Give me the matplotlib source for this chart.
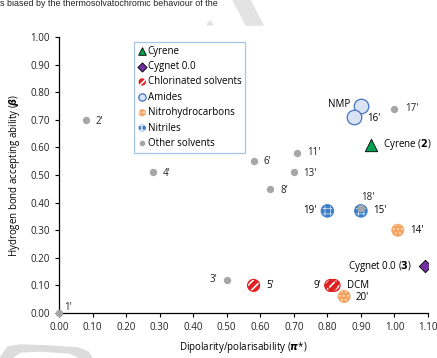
import matplotlib
matplotlib.use("Agg")
import matplotlib.pyplot as plt
from matplotlib.patches import Polygon

plt.rcParams['font.family'] = ['Open Sans', 'DejaVu Sans']
plt.rcParams['hatch.linewidth'] = 1.2

# Data
other_x = [0.00, 0.08, 0.50, 0.28, 0.58, 0.63, 0.71, 0.70, 1.00, 0.90]
other_y = [0.00, 0.70, 0.12, 0.51, 0.55, 0.45, 0.58, 0.51, 0.74, 0.38]
other_lbl = ["1'", "2'", "3'", "4'", "6'", "8'", "11'", "13'", "17'", "18'"]

cyrene_x, cyrene_y = [0.93], [0.61]
cygnet_x, cygnet_y = [1.09], [0.17]
chlor_x = [0.58, 0.81, 0.82]
chlor_y = [0.10, 0.10, 0.10]
amide_x = [0.90, 0.88]
amide_y = [0.75, 0.71]
nitro_x = [1.01, 0.85]
nitro_y = [0.30, 0.06]
nitrile_x = [0.80, 0.90]
nitrile_y = [0.37, 0.37]

xticks = [0.0, 0.1, 0.2, 0.3, 0.4, 0.5, 0.6, 0.7, 0.8, 0.9, 1.0, 1.1]
yticks = [0.0, 0.1, 0.2, 0.3, 0.4, 0.5, 0.6, 0.7, 0.8, 0.9, 1.0]

W, H = 437, 358
fig = plt.figure(figsize=(W/100, H/100), dpi=100)
ax = fig.add_axes([59/W, 1-313/H, (428-59)/W, (313-37)/H])
ax.set_xlim(0, 1.1)
ax.set_ylim(0, 1.0)
ax.set_facecolor('none')

def px(pts):
    return [[x/W, 1-y/H] for x, y in pts]

fs = 7
# Watermark shapes (background decoration)
fig.patches.append(Polygon(px([(233, 0), (250, 0), (263, 25), (246, 25)]),
                           closed=True, transform=fig.transFigure, color='#e3e3e3', zorder=0))
fig.patches.append(Polygon(px([(207, 25), (210, 21), (213, 25)]),
                           closed=True, transform=fig.transFigure, color='#e3e3e3', zorder=0))
fig.patches.append(Polygon(px([(0, 358), (8, 347), (20, 345), (50, 346), (78, 348), (88, 352), (92, 358), (80, 358), (70, 353), (40, 351), (20, 352), (12, 358)]),
                           closed=True, transform=fig.transFigure, color='#dcdcdc', zorder=0))
fig.text(0.0, 1-4/H, "s biased by the thermosolvatochromic behaviour of the",
         fontsize=6.4, family='Liberation Sans', va='center', ha='left', color='#222222')

def hl(coll, lw):
    if hasattr(coll, 'set_hatch_linewidth'):
        coll.set_hatch_linewidth(lw)

h_cyr = ax.scatter(cyrene_x, cyrene_y, marker='^', s=80, c='#00a050', edgecolors='black', linewidths=0.6, zorder=4, label='Cyrene')
h_cyg = ax.scatter(cygnet_x, cygnet_y, marker='D', s=40, c='#7030a0', edgecolors='black', linewidths=0.6, zorder=4, label='Cygnet 0.0')
h_chl = ax.scatter(chlor_x, chlor_y, marker='o', s=75, facecolors='#e02020', edgecolors='white', linewidths=0, hatch='////', zorder=3, label='Chlorinated solvents')
hl(h_chl, 1.2)
ax.scatter(chlor_x, chlor_y, marker='o', s=75, facecolors='none', edgecolors='#e02020', linewidths=0.8, zorder=3)
h_am = ax.scatter(amide_x, amide_y, marker='o', s=110, facecolors='#dae3f3', edgecolors='#4472c4', linewidths=0.9, zorder=3, label='Amides')
with plt.rc_context({'hatch.linewidth': 0.8}):
    h_nit = ax.scatter(nitro_x, nitro_y, marker='o', s=75, facecolors='#f4a460', edgecolors='#fde0c8', linewidths=0, hatch='....', zorder=3, label='Nitrohydrocarbons')
hl(h_nit, 0.8)
ax.scatter(nitro_x, nitro_y, marker='o', s=75, facecolors='none', edgecolors='#f4a460', linewidths=0.6, zorder=3)
with plt.rc_context({'hatch.linewidth': 0.5}):
    h_ntl = ax.scatter(nitrile_x, nitrile_y, marker='o', s=80, facecolors='#3c7fc8', edgecolors='#dde8f6', linewidths=0, hatch='+++', zorder=3, label='Nitriles')
hl(h_ntl, 0.5)
ax.scatter(nitrile_x, nitrile_y, marker='o', s=80, facecolors='none', edgecolors='#3c7fc8', linewidths=0.8, zorder=3)
h_oth = ax.scatter(other_x, other_y, marker='o', s=28, c='#a6a6a6', linewidths=0, zorder=5, label='Other solvents', clip_on=False)

# Point labels
offs = {"1'": (4, 4, 'left'), "2'": (7, -1, 'left'), "3'": (-7, 0, 'right'), "4'": (7, -1, 'left'),
        "6'": (7, 0, 'left'), "8'": (7, -1, 'left'), "11'": (7, 0, 'left'), "13'": (7, -1, 'left'),
        "17'": (8, 0, 'left'), "18'": (0, 8, 'left')}
for x, y, t in zip(other_x, other_y, other_lbl):
    dx, dy, ha = offs[t]
    ax.annotate(t, (x, y), xytext=(dx, dy), textcoords='offset points', ha=ha, va='center', fontsize=fs, color='#222222')

ax.annotate("Cyrene ($\\mathbf{2}$)", (0.93, 0.61), xytext=(9, 0), textcoords='offset points', va='center', fontsize=fs)
ax.annotate("Cygnet 0.0 ($\\mathbf{3}$)", (1.09, 0.17), xytext=(-9, 0), textcoords='offset points', va='center', ha='right', fontsize=fs)
ax.annotate("5'", (0.58, 0.10), xytext=(9, 0), textcoords='offset points', va='center', fontsize=fs)
ax.annotate("9'", (0.81, 0.10), xytext=(-7, 0), textcoords='offset points', va='center', ha='right', fontsize=fs)
ax.annotate("DCM", (0.82, 0.10), xytext=(9, 0), textcoords='offset points', va='center', fontsize=fs)
ax.annotate("20'", (0.85, 0.06), xytext=(8, -1), textcoords='offset points', va='center', fontsize=fs)
ax.annotate("14'", (1.01, 0.30), xytext=(9, 0), textcoords='offset points', va='center', fontsize=fs)
ax.annotate("19'", (0.80, 0.37), xytext=(-8, 0), textcoords='offset points', va='center', ha='right', fontsize=fs)
ax.annotate("15'", (0.90, 0.37), xytext=(9, 0), textcoords='offset points', va='center', fontsize=fs)
ax.annotate("NMP", (0.90, 0.75), xytext=(-8, 1), textcoords='offset points', va='center', ha='right', fontsize=fs)
ax.annotate("16'", (0.88, 0.71), xytext=(9, -1), textcoords='offset points', va='center', fontsize=fs)

for s in ['top', 'right']:
    ax.spines[s].set_visible(False)
for s in ['left', 'bottom']:
    ax.spines[s].set_linewidth(0.9)
ax.set_xticks(xticks)
ax.set_yticks(yticks)
ax.set_xticklabels([f"{v:.2f}" for v in xticks])
ax.set_yticklabels([f"{v:.2f}" for v in yticks])
ax.tick_params(labelsize=fs, length=3, width=0.8, colors='black', labelcolor='#222222')
ax.set_xlabel("Dipolarity/polarisability ($\\boldsymbol{\\pi}$*)", fontsize=fs, labelpad=5)
ax.set_ylabel("Hydrogen bond accepting ability ($\\boldsymbol{\\beta}$)", fontsize=fs, labelpad=6)

leg = ax.legend(handles=[h_cyr, h_cyg, h_chl, h_am, h_nit, h_ntl, h_oth], loc='upper left',
                bbox_to_anchor=(0.19, 1.0), fontsize=fs, frameon=True, fancybox=False,
                handletextpad=0.1, borderpad=0.4, labelspacing=0.45, handlelength=0.9)
leg_sizes = [30, 22, 28, 28, 28, 28, 16]
for hnd, sz in zip(leg.legend_handles, leg_sizes):
    hnd.set_sizes([sz])
leg.get_frame().set_edgecolor('#8fb4dd')
leg.get_frame().set_linewidth(0.9)

fig.savefig("out.png", dpi=100)
